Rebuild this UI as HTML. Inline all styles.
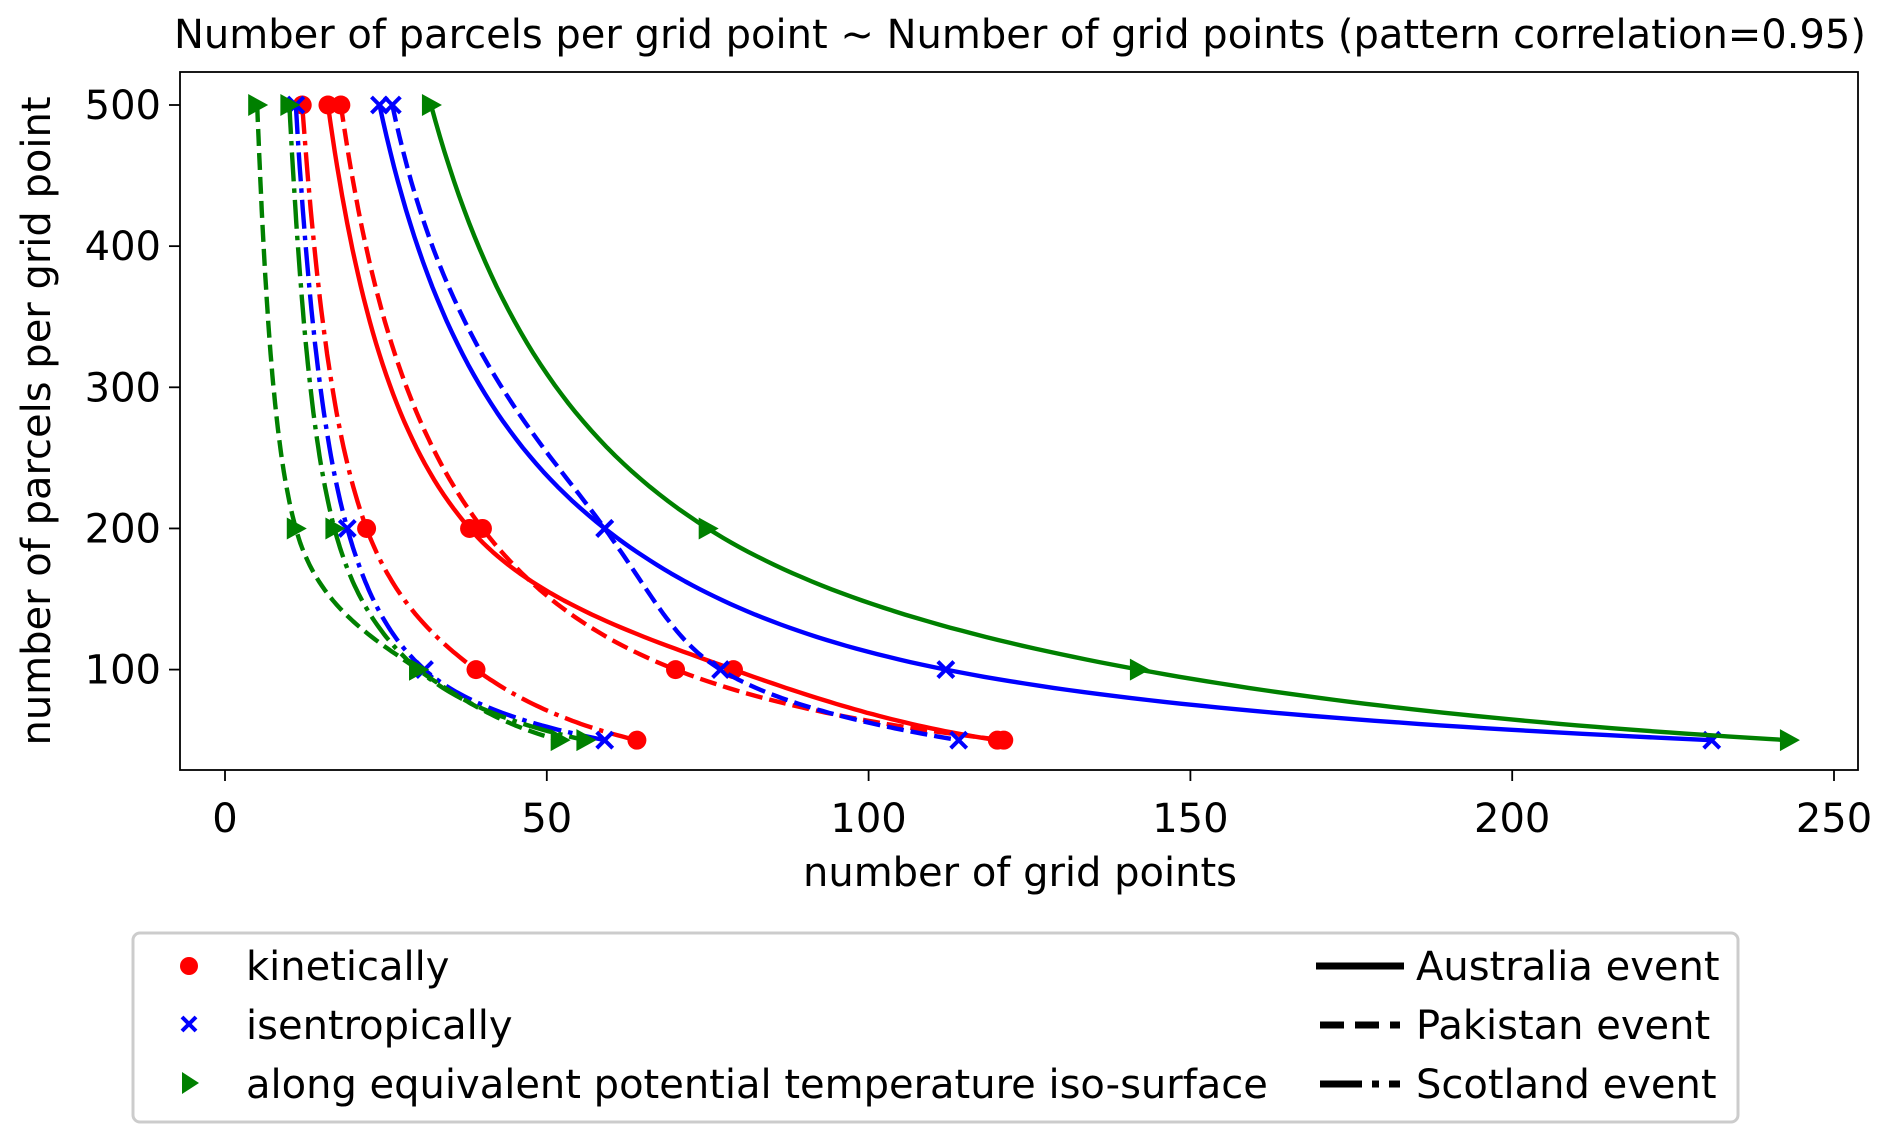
<!DOCTYPE html>
<html><head><meta charset="utf-8"><style>
body{margin:0;background:#fff;}
svg{display:block;font-family:"DejaVu Sans","Liberation Sans",sans-serif;}
</style></head><body>
<svg id="chart" width="1892" height="1144" viewBox="0 0 1892 1144">
<text x="1020" y="48" font-size="40" text-anchor="middle">Number of parcels per grid point ~ Number of grid points (pattern correlation=0.95)</text>
<g id="ticks"></g>
<g id="plot"></g>
<rect x="180" y="72" width="1678" height="698" fill="none" stroke="#000" stroke-width="1.8"/>
<text x="1020" y="886" font-size="40" text-anchor="middle">number of grid points</text>
<text transform="translate(50,421) rotate(-90)" font-size="40" text-anchor="middle">number of parcels per grid point</text>
<g>
<rect x="133" y="933" width="1605" height="189" rx="7" fill="#fff" stroke="#ccc" stroke-width="3"/>
<circle cx="189" cy="966" r="9" fill="red"/>
<text x="246" y="980" font-size="40">kinetically</text>
<path d="M182,1017 l14,14 M196,1017 l-14,14" stroke="blue" stroke-width="4"/>
<text x="246" y="1039" font-size="40">isentropically</text>
<path d="M182,1072 L199,1083 L182,1094 Z" fill="green"/>
<text x="246" y="1098" font-size="40">along equivalent potential temperature iso-surface</text>
<line x1="1316" y1="966" x2="1404" y2="966" stroke="#000" stroke-width="7"/>
<text x="1416" y="980" font-size="40">Australia event</text>
<line x1="1320" y1="1025" x2="1400" y2="1025" stroke="#000" stroke-width="7" stroke-dasharray="24,11"/>
<text x="1416" y="1039" font-size="40">Pakistan event</text>
<line x1="1320" y1="1084" x2="1400" y2="1084" stroke="#000" stroke-width="7" stroke-dasharray="42,10,7,10"/>
<text x="1416" y="1098" font-size="40">Scotland event</text>
</g>
</svg>
<script>
const yLevels=[500,200,100,50];
const xTicks=[0,50,100,150,200,250];
const yTicks=[100,200,300,400,500];
const kinAus=[16,38,79,120];
const kinPak=[18,40,70,121];
const kinSco=[12,22,39,64];
const isenAus=[24,59,112,231];
const isenPak=[26,59,77,114];
const isenSco=[11,19,31,59];
const theAus=[32,75,142,243];
const thePak=[5,11,30,52];
const theSco=[10,17,30,56];

const NS='http://www.w3.org/2000/svg';
const X=v=>225+v*6.436;
const Y=v=>105+(500-v)*1.4115;
const plot=document.getElementById('plot');
const ticks=document.getElementById('ticks');
function mk(tag,attrs,parent){const e=document.createElementNS(NS,tag);for(const k in attrs)e.setAttribute(k,attrs[k]);parent.appendChild(e);return e;}

xTicks.forEach(t=>{
  const l=mk('line',{x1:X(t),x2:X(t),y1:770,y2:781,stroke:'#000','stroke-width':1.8},ticks);
  
  
  const s=mk('text',{x:X(t),y:832,'font-size':40,'text-anchor':'middle'},ticks);
  s.textContent=t;
  
  
});
yTicks.forEach(t=>{
  const l=mk('line',{x1:169,x2:180,y1:Y(t),y2:Y(t),stroke:'#000','stroke-width':1.8},ticks);
  
  
  const s=mk('text',{x:161,y:Y(t)+14,'font-size':40,'text-anchor':'end'},ticks);
  s.textContent=t;
  
  
});

// monotone cubic (PCHIP) of log(x) as function of log(y)
function pchip(ts,vs){
  const n=ts.length,h=[],del=[],m=new Array(n);
  for(let i=0;i<n-1;i++){h[i]=ts[i+1]-ts[i];del[i]=(vs[i+1]-vs[i])/h[i];}
  m[0]=del[0];m[n-1]=del[n-2];
  for(let i=1;i<n-1;i++){
    if(del[i-1]*del[i]<=0)m[i]=0;
    else{const w1=2*h[i]+h[i-1],w2=h[i]+2*h[i-1];m[i]=(w1+w2)/(w1/del[i-1]+w2/del[i]);}
  }
  const out=[];
  for(let i=0;i<n-1;i++){
    for(let k=0;k<40;k++){
      const s=k/40,s2=s*s,s3=s2*s;
      const v=(2*s3-3*s2+1)*vs[i]+(s3-2*s2+s)*h[i]*m[i]+(-2*s3+3*s2)*vs[i+1]+(s3-s2)*h[i]*m[i+1];
      out.push([ts[i]+s*h[i],v]);
    }
  }
  out.push([ts[n-1],vs[n-1]]);
  return out;
}
const dashes={solid:'',dashed:'17,7',dashdot:'29,7,4.5,7'};
const series=[
  [kinAus,'red','solid','circle','kinetically-australia'],
  [kinPak,'red','dashed','circle','kinetically-pakistan'],
  [kinSco,'red','dashdot','circle','kinetically-scotland'],
  [isenAus,'blue','solid','x','isentropically-australia'],
  [isenPak,'blue','dashed','x','isentropically-pakistan'],
  [isenSco,'blue','dashdot','x','isentropically-scotland'],
  [theAus,'green','solid','tri','theta-e-australia'],
  [thePak,'green','dashed','tri','theta-e-pakistan'],
  [theSco,'green','dashdot','tri','theta-e-scotland']
];
series.forEach(([vals,col,ls,mkr,name])=>{
  const ts=yLevels.map(v=>Math.log(v)), vs=vals.map(v=>Math.log(v));
  const sp=pchip(ts,vs);
  const d='M'+sp.map(([t,v])=>X(Math.exp(v)).toFixed(1)+','+Y(Math.exp(t)).toFixed(1)).join(' L');
  const p=mk('path',{d:d,fill:'none',stroke:col,'stroke-width':4.4,'stroke-dasharray':dashes[ls],'stroke-linejoin':'round'},plot);
  
  
  vals.forEach((v,i)=>{
    const x=X(v),y=Y(yLevels[i]);
    let m;
    if(mkr==='circle') m=mk('circle',{cx:x,cy:y,r:9.5,fill:col},plot);
    else if(mkr==='x') m=mk('path',{d:`M${x-8},${y-8} l16,16 M${x+8},${y-8} l-16,16`,stroke:col,'stroke-width':4},plot);
    else m=mk('path',{d:`M${x-9},${y-11} L${x+11},${y} L${x-9},${y+11} Z`,fill:col},plot);
    
    
  });
});
</script>
</body></html>
